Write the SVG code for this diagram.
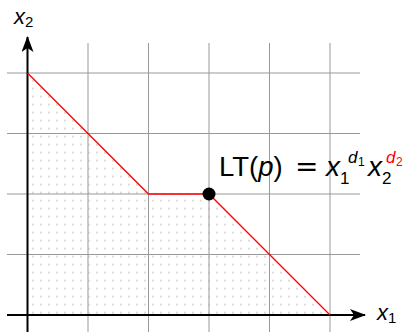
<svg xmlns="http://www.w3.org/2000/svg" width="406" height="332" viewBox="0 0 406 332">
<defs>
<style>
.grid{stroke:#999;stroke-width:1;fill:none}
.axis{stroke:#000;stroke-width:2;fill:none}
.red{stroke:#f00;stroke-width:1.3;fill:none}
.t{font-family:"Liberation Sans",Arial,sans-serif;fill:#000}
.i{font-style:italic}
.r{fill:#f00}
</style>
<pattern id="dots" patternUnits="userSpaceOnUse" x="29" y="268.7" width="8" height="8">
<circle cx="4" cy="4" r="1.1" fill="#d6d6d6"/>
</pattern>
<marker id="arr" viewBox="0 0 16 12" refX="15" refY="6" markerWidth="16" markerHeight="12" markerUnits="userSpaceOnUse" orient="auto">
<path d="M0,0 L16,6 L0,12 L4,6 Z" fill="#000"/>
</marker>
</defs>
<g id="region">
<polygon points="27.5,73 148.5,194 209,194 330,315 27.5,315" fill="url(#dots)"/>
</g>
<g id="grid" class="grid">
<path d="M88,43V332 M148.5,43V332 M209,43V332 M269.5,43V332 M330,43V332 M7,73H360 M7,133.5H360 M7,194H360 M7,254.5H360"/>
</g>
<g id="connectors">
<line class="axis" x1="7" y1="315" x2="365" y2="315" marker-end="url(#arr)"/>
<line class="axis" x1="27.5" y1="332" x2="27.5" y2="37" marker-end="url(#arr)"/>
<polyline class="red" points="27.5,73 148.5,194 209,194 330,315"/>
</g>
<g id="point">
<circle cx="209" cy="194" r="6.5" fill="#000"/>
</g>
<g id="label-x1">
<text class="t" x="377" y="320" font-size="22"><tspan class="i">x</tspan><tspan font-size="15" dy="3">1</tspan></text>
</g>
<g id="label-x2">
<text class="t" x="14" y="24" font-size="22"><tspan class="i">x</tspan><tspan font-size="15" dy="3">2</tspan></text>
</g>
<g id="label-lt">
<text class="t" x="219" y="176" font-size="27.5">LT(<tspan class="i">p</tspan>)</text>
<text class="t" x="295" y="176" font-size="28" style="font-family:'DejaVu Sans',sans-serif">=</text>
<text class="t i" x="326" y="176" font-size="28">x</text>
<text class="t" x="340" y="184" font-size="17">1</text>
<text class="t i" x="348" y="163" font-size="17">d</text>
<text class="t" x="358" y="166" font-size="12">1</text>
<text class="t i" x="368" y="176" font-size="28">x</text>
<text class="t" x="382" y="184" font-size="17">2</text>
<text class="t i r" x="386" y="163" font-size="17">d</text>
<text class="t r" x="396" y="166" font-size="12">2</text>
</g>
</svg>
